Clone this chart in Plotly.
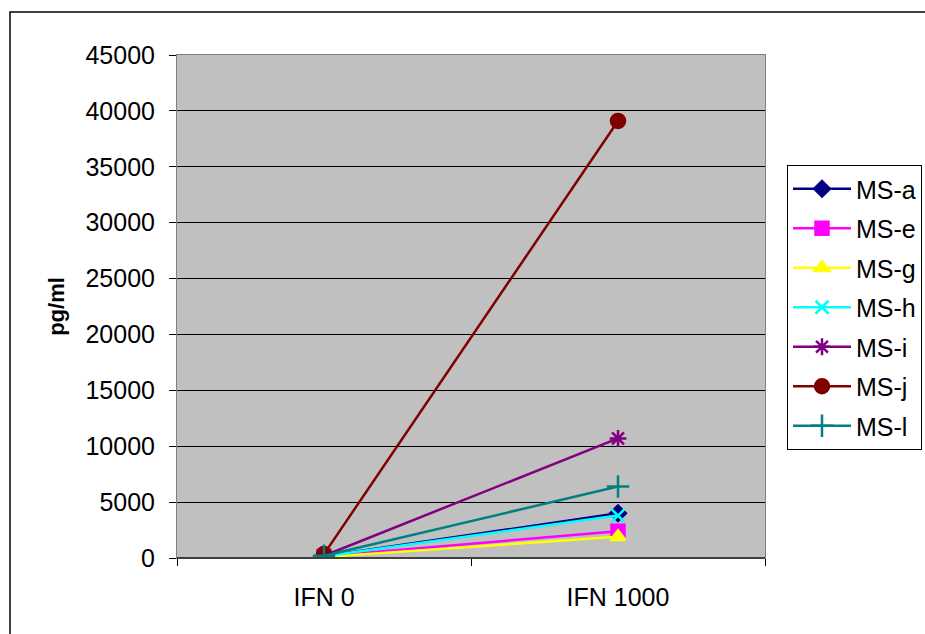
import plotly.graph_objects as go

categories = ["IFN 0", "IFN 1000"]
series_names = ["MS-a", "MS-e", "MS-g", "MS-h", "MS-i", "MS-j", "MS-l"]
values_a = [150, 4000]
values_e = [150, 2400]
values_g = [100, 1900]
values_h = [150, 3800]
values_i = [200, 10700]
values_j = [350, 39100]
values_l = [200, 6400]
y_ticks = [0, 5000, 10000, 15000, 20000, 25000, 30000, 35000, 40000, 45000]

all_values = [values_a, values_e, values_g, values_h, values_i, values_j, values_l]
colors = ["#000080", "#FF00FF", "#FFFF00", "#00FFFF", "#800080", "#800000", "#008080"]
symbols = ["diamond", "square", "triangle-up", "x-thin-open", "asterisk-open", "circle", "cross-thin-open"]
sizes = [12, 13, 13, 13, 14, 14, 16]

fig = go.Figure()
for i, (name, vals, c, s, sz) in enumerate(zip(series_names, all_values, colors, symbols, sizes)):
    fig.add_trace(go.Scatter(
        x=categories, y=vals, name=name, mode="lines+markers",
        legendgroup="g%d" % i,
        line=dict(color=c, width=2.5),
        marker=dict(symbol=s, size=sz, color=c, line=dict(color=c, width=2.5)),
    ))

W, H = 925, 634
L, R, T, B = 177, 160, 55, 76
pw, ph = W - L - R, H - T - B

def px(x):
    return (x - L) / pw

def py(y):
    return (H - B - y) / ph

FONT = "Liberation Sans, Arial, sans-serif"

fig.update_layout(
    width=W, height=H,
    margin=dict(l=L, r=R, t=T, b=B, autoexpand=False),
    paper_bgcolor="white",
    plot_bgcolor="#C0C0C0",
    font=dict(family=FONT, size=25, color="black"),
    showlegend=True,
    legend=dict(
        xref="container", yref="container",
        x=787 / W, y=1 - 165 / H, xanchor="left", yanchor="top",
        bordercolor="black", borderwidth=1, bgcolor="white",
        font=dict(size=25), tracegroupgap=4, itemwidth=58,
    ),
    xaxis=dict(
        type="category", range=[-0.5, 1.5],
        showgrid=False, showline=True, linecolor="#808080", linewidth=1, mirror=True,
        ticks="outside", tickson="boundaries", ticklen=7, tickcolor="black",
        tickfont=dict(size=25), ticklabelstandoff=17,
    ),
    yaxis=dict(
        range=[0, 45000], tickvals=y_ticks, ticktext=[str(v) for v in y_ticks],
        showgrid=True, gridcolor="black", gridwidth=1,
        showline=True, linecolor="#808080", linewidth=1, mirror=True,
        ticks="outside", ticklen=7, tickcolor="black",
        tickfont=dict(size=25), zeroline=False, ticklabelstandoff=9,
        title=dict(text="<b>pg/ml</b>", font=dict(size=22), standoff=14),
    ),
    shapes=[
        dict(type="rect", xref="paper", yref="paper",
             x0=px(10), x1=px(930), y0=py(640), y1=py(12),
             line=dict(color="black", width=1.5), fillcolor="rgba(0,0,0,0)", layer="below"),
        dict(type="line", xref="paper", yref="paper",
             x0=0, x1=1, y0=0, y1=0, line=dict(color="#404040", width=2)),
    ],
)

fig.write_html("out.html")
